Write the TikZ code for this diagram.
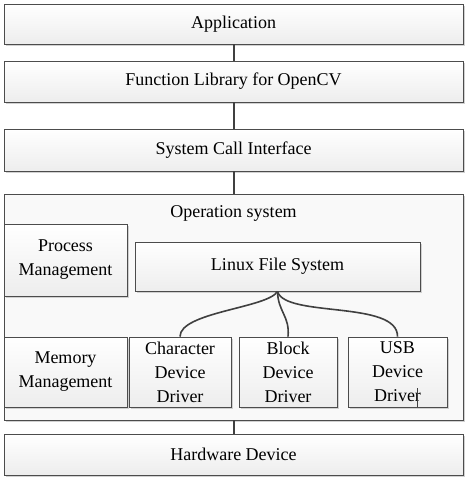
\documentclass[tikz,border=0pt]{standalone}
\usepackage{fontspec}
\setmainfont{Liberation Serif}
\usetikzlibrary{calc,positioning,shadows}

\begin{document}
\begin{tikzpicture}[
  x=1pt,y=-1pt,
  font=\fontsize{18}{24}\selectfont,
  layer/.style={draw=black!70,line width=0.8pt,rectangle,align=center,
                top color=white,bottom color=gray!14,
                drop shadow={shadow xshift=2pt,shadow yshift=-2pt,fill=gray!45,opacity=0.8}},
  osbox/.style={draw=black!70,line width=0.8pt,rectangle,fill=gray!5,
                drop shadow={shadow xshift=2pt,shadow yshift=-2pt,fill=gray!45,opacity=0.8}},
  link/.style={draw=black!75,line width=2pt},
  branch/.style={draw=black!75,line width=1.6pt},
]
\useasboundingbox (0,0) rectangle (467,480);

%% =====================================================
%%  LAYERS stacked vertically
%% =====================================================
\node[layer,minimum width=459pt,minimum height=40pt] (app) at (233.5,24) {Application};
\node[layer,minimum width=459pt,minimum height=41pt] (lib) at (233.5,81.5) {Function Library for OpenCV};
\node[layer,minimum width=459pt,minimum height=42pt] (sci) at (233.5,150) {System Call Interface};

% --- Operation system container ---
\node[osbox,minimum width=459pt,minimum height=226pt] (os) at (233.5,307) {};
\node[below=10pt of os.north,inner sep=2pt] (ostitle) {Operation system};

\node[layer,minimum width=123pt,minimum height=72pt] (proc) at (65.5,260) {Process\\Management};
\node[layer,minimum width=285pt,minimum height=49pt] (lfs) at (277.5,266.5) {Linux File System};

\node[layer,minimum width=123pt,minimum height=70pt] (mem) at (65.5,372) {Memory\\Management};
\node[layer,minimum width=102pt,minimum height=70pt] (chr) at (180,372) {Character\\Device\\Driver};
\node[layer,minimum width=98pt,minimum height=70pt] (blk) at (288,372) {Block\\Device\\Driver};
\node[layer,minimum width=99pt,minimum height=70pt] (usb) at (397.5,372) {USB\\Device\\Driver};

\node[layer,minimum width=459pt,minimum height=41pt] (hw) at (233.5,454.5) {Hardware Device};

%% =====================================================
%%  Connections
%% =====================================================
\draw[link] (app.south) -- (lib.north);
\draw[link] (lib.south) -- (sci.north);
\draw[link] (sci.south) -- (os.north);
\draw[link] (os.south) -- (hw.north);

% file system to drivers
\draw[branch] (lfs.south) .. controls (268,308) and (180,312) .. (chr.north);
\draw[branch] (lfs.south) .. controls (278,312) and (290,316) .. (blk.north);
\draw[branch] (lfs.south) .. controls (285,318) and (398,300) .. (usb.north);

% small tick in the USB box
\draw[black!75,line width=0.8pt] ($(usb.south)+(19.5,0)$) -- ++(0,-19);

\end{tikzpicture}
\end{document}
